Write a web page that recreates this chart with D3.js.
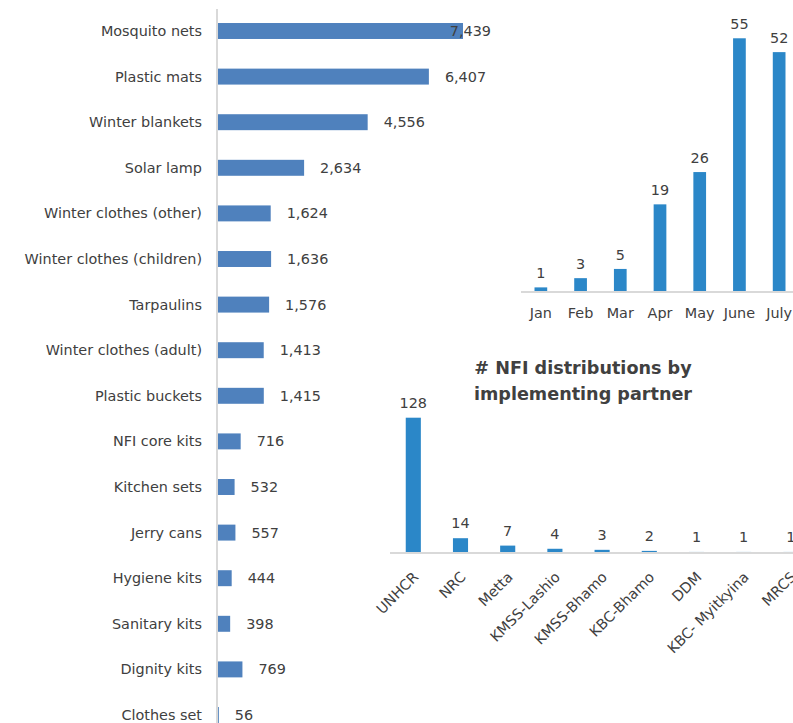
<!DOCTYPE html>
<html>
  <head>
    <meta charset="UTF-8" />
    <title>NFI distributions</title>
    <script src="https://d3js.org/d3.v7.min.js"></script>
    <style>
      body { margin: 0; background: #fff; }
      text { font-family: "DejaVu Sans", sans-serif; fill: #404040; }
      .axisline { stroke: #d9d9d9; stroke-width: 2px; }
    </style>
  </head>
  <body>
    <svg id="chart" width="793" height="723"></svg>
    <script>
      // items distributed (left chart)
      var items = ['Mosquito nets', 'Plastic mats', 'Winter blankets', 'Solar lamp',
        'Winter clothes (other)', 'Winter clothes (children)', 'Tarpaulins',
        'Winter clothes (adult)', 'Plastic buckets', 'NFI core kits', 'Kitchen sets',
        'Jerry cans', 'Hygiene kits', 'Sanitary kits', 'Dignity kits', 'Clothes set'];
      var itemValues = [7439, 6407, 4556, 2634, 1624, 1636, 1576, 1413, 1415, 716, 532, 557, 444, 398, 769, 56];

      // distributions by month (top right)
      var months = ['Jan', 'Feb', 'Mar', 'Apr', 'May', 'June', 'July'];
      var monthValues = [1, 3, 5, 19, 26, 55, 52];

      // distributions by partner (bottom right)
      var partners = ['UNHCR', 'NRC', 'Metta', 'KMSS-Lashio', 'KMSS-Bhamo', 'KBC-Bhamo', 'DDM', 'KBC- Myitkyina', 'MRCS'];
      var partnerValues = [128, 14, 7, 4, 3, 2, 1, 1, 1];

      var svg = d3.select('#chart');
      var fmt = d3.format(',');
      var fs = '14.4px';

      // ---- left horizontal bars
      var yItem = d3.scaleBand().domain(items).range([8.2, 737.8]).paddingInner(0.65).paddingOuter(0.325);
      var xItem = d3.scaleLinear().domain([0, 8000]).range([217, 217 + 8000 * 0.03307]);

      var gLeft = svg.append('g');
      gLeft.selectAll('rect')
        .data(items)
        .enter()
        .append('rect')
        .attr('x', xItem(0))
        .attr('y', function (d) { return yItem(d); })
        .attr('width', function (d, i) { return xItem(itemValues[i]) - xItem(0); })
        .attr('height', yItem.bandwidth())
        .attr('fill', '#4f81bd');

      gLeft.append('line').attr('class', 'axisline')
        .attr('x1', 217).attr('x2', 217).attr('y1', 9).attr('y2', 723);

      gLeft.selectAll('.cat')
        .data(items)
        .enter()
        .append('text')
        .attr('class', 'cat')
        .attr('x', 202)
        .attr('y', function (d) { return yItem(d) + yItem.bandwidth() / 2; })
        .attr('dy', '0.35em')
        .attr('text-anchor', 'end')
        .style('font-size', fs)
        .text(function (d) { return d; });

      // value labels sit right of the bar, pulled back inside the plot when too wide
      gLeft.selectAll('.val')
        .data(items)
        .enter()
        .append('text')
        .attr('class', 'val')
        .attr('y', function (d) { return yItem(d) + yItem.bandwidth() / 2; })
        .attr('dy', '0.35em')
        .style('font-size', fs)
        .text(function (d, i) { return fmt(itemValues[i]); })
        .attr('x', function (d, i) {
          var x = xItem(itemValues[i]) + 16;
          var w = this.getComputedTextLength();
          return Math.min(x, 491 - w);
        });

      // ---- top right: by month
      var xMonth = d3.scaleBand().domain(months).range([521, 799]).paddingInner(0.68).paddingOuter(0.34);
      var yMonth = d3.scaleLinear().domain([0, 60]).range([292, 292 - 60 * 4.613]);

      var gMonth = svg.append('g');
      gMonth.selectAll('rect')
        .data(months)
        .enter()
        .append('rect')
        .attr('x', function (d) { return xMonth(d); })
        .attr('y', function (d, i) { return yMonth(monthValues[i]); })
        .attr('width', xMonth.bandwidth())
        .attr('height', function (d, i) { return yMonth(0) - yMonth(monthValues[i]); })
        .attr('fill', '#2b87c8');

      gMonth.append('line').attr('class', 'axisline')
        .attr('x1', 521).attr('x2', 793).attr('y1', 292).attr('y2', 292);

      gMonth.selectAll('.val')
        .data(months)
        .enter()
        .append('text')
        .attr('class', 'val')
        .attr('x', function (d) { return xMonth(d) + xMonth.bandwidth() / 2; })
        .attr('y', function (d, i) { return yMonth(monthValues[i]) - 9; })
        .attr('text-anchor', 'middle')
        .style('font-size', fs)
        .text(function (d, i) { return monthValues[i]; });

      gMonth.selectAll('.cat')
        .data(months)
        .enter()
        .append('text')
        .attr('class', 'cat')
        .attr('x', function (d) { return xMonth(d) + xMonth.bandwidth() / 2; })
        .attr('y', 318)
        .attr('text-anchor', 'middle')
        .style('font-size', fs)
        .text(function (d) { return d; });

      // ---- bottom right: by partner
      var xPart = d3.scaleBand().domain(partners).range([389.7, 389.7 + 9 * 47.2]).paddingInner(0.68).paddingOuter(0.34);
      var yPart = d3.scaleLinear().domain([0, 140]).range([553, 553 - 140 * 1.057]);

      var gPart = svg.append('g');
      gPart.append('text')
        .attr('x', 583).attr('y', 374)
        .attr('text-anchor', 'middle')
        .style('font-size', '17.6px').style('font-weight', 'bold')
        .text('# NFI distributions by');
      gPart.append('text')
        .attr('x', 583).attr('y', 400)
        .attr('text-anchor', 'middle')
        .style('font-size', '17.6px').style('font-weight', 'bold')
        .text('implementing partner');

      gPart.selectAll('rect')
        .data(partners)
        .enter()
        .append('rect')
        .attr('x', function (d) { return xPart(d); })
        .attr('y', function (d, i) { return yPart(partnerValues[i]); })
        .attr('width', xPart.bandwidth())
        .attr('height', function (d, i) { return yPart(0) - yPart(partnerValues[i]); })
        .attr('fill', '#2b87c8');

      gPart.append('line').attr('class', 'axisline')
        .attr('x1', 390).attr('x2', 793).attr('y1', 553).attr('y2', 553);

      gPart.selectAll('.val')
        .data(partners)
        .enter()
        .append('text')
        .attr('class', 'val')
        .attr('x', function (d) { return xPart(d) + xPart.bandwidth() / 2; })
        .attr('y', function (d, i) { return yPart(partnerValues[i]) - 10; })
        .attr('text-anchor', 'middle')
        .style('font-size', fs)
        .text(function (d, i) { return partnerValues[i]; });

      gPart.selectAll('.cat')
        .data(partners)
        .enter()
        .append('text')
        .attr('class', 'cat')
        .attr('text-anchor', 'end')
        .attr('transform', function (d) {
          return 'translate(' + (xPart(d) + xPart.bandwidth() / 2 + 6) + ',578) rotate(-45)';
        })
        .style('font-size', fs)
        .text(function (d) { return d; });
    </script>
  </body>
</html>
